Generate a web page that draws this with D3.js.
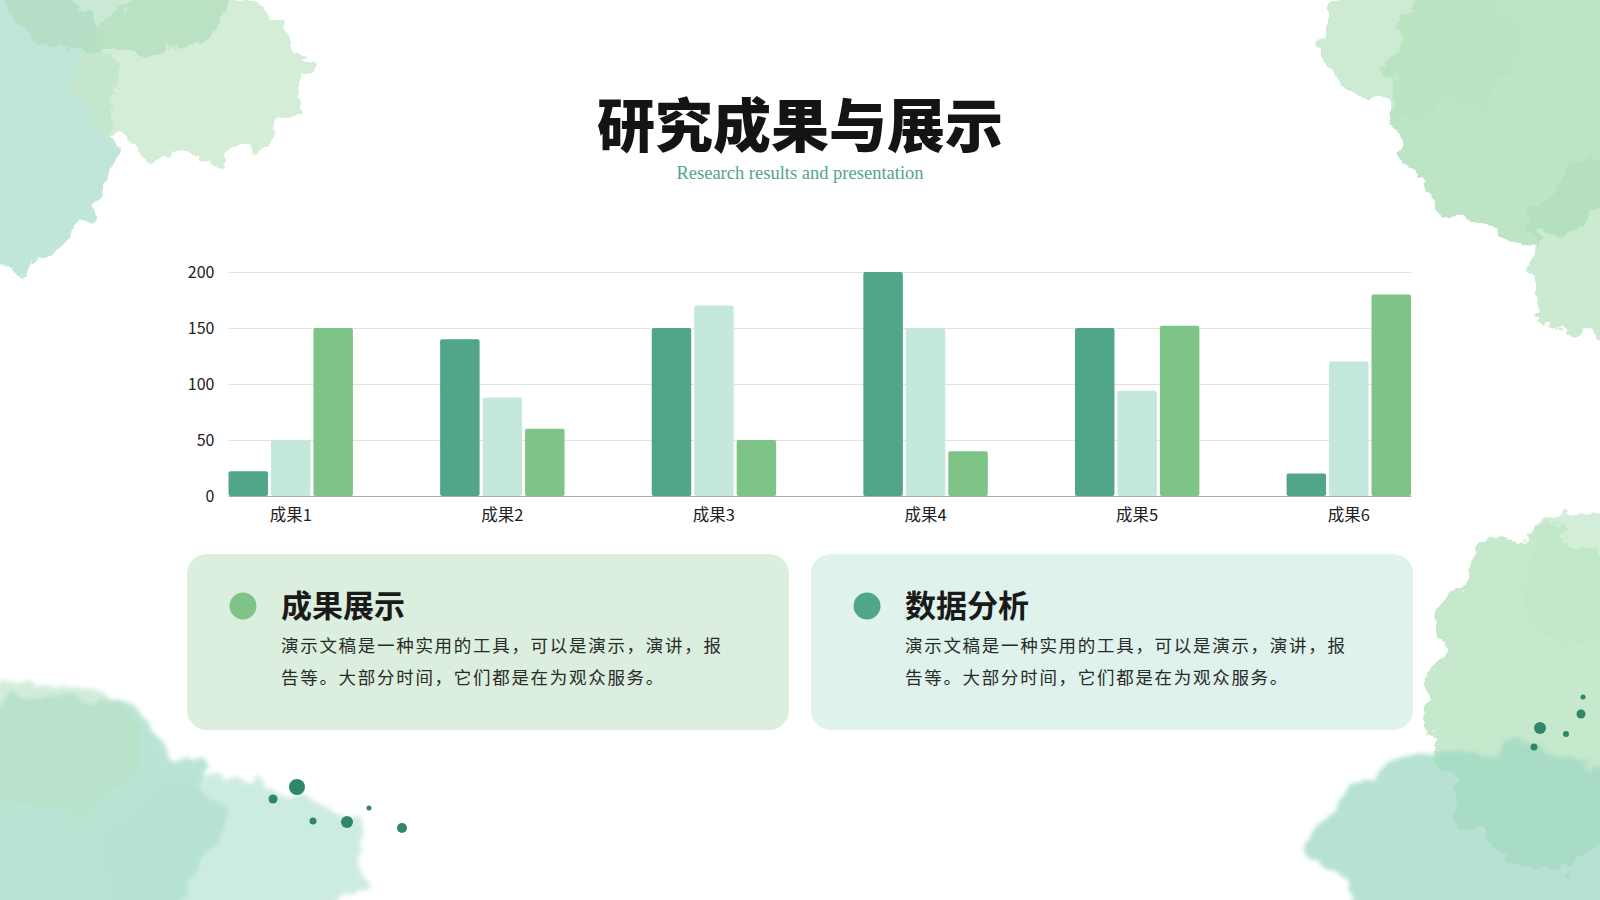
<!DOCTYPE html>
<meta charset="utf-8">
<head>
    <title>研究成果与展示</title>
    <script type="text/javascript" src="https://d3js.org/d3.v7.min.js"></script>
    <style>
        body { margin: 0; background: #fff; }
        svg { display: block; }
        .tick text { font-family: "Noto Sans CJK SC", "Noto Sans", sans-serif; fill: #222; }
    </style>
</head>
<body>
    <div id="chart"></div>
    <script>
        // chart data
        var categories = ["成果1", "成果2", "成果3", "成果4", "成果5", "成果6"];
        var seriesNames = ["系列1", "系列2", "系列3"];
        var series1 = [22, 140, 150, 200, 150, 20];
        var series2 = [50, 88, 170, 150, 94, 120];
        var series3 = [150, 60, 50, 40, 152, 180];
        var yTicks = [0, 50, 100, 150, 200];
        var seriesColors = ["#52a688", "#c5e8dc", "#7ec487"];

        // text of the two cards
        var cardTitles = ["成果展示", "数据分析"];
        var cardLines = ["演示文稿是一种实用的工具，可以是演示，演讲，报", "告等。大部分时间，它们都是在为观众服务。"];
        var cardFills = ["#dcefde", "#dff3ec"];
        var cardDots = ["#7ec487", "#52a688"];

        var width = 1600, height = 900;
        var margin = { top: 272, right: 189, bottom: 404, left: 228.5 };

        var svg = d3.select("#chart").append("svg")
            .attr("width", width)
            .attr("height", height);

        svg.append("rect").attr("width", width).attr("height", height).attr("fill", "#fff");

        // watercolour corners (decoration only)
        var defs = svg.append("defs");
        var wc = defs.append("filter").attr("id", "wc")
            .attr("x", "-30%").attr("y", "-30%").attr("width", "160%").attr("height", "160%");
        wc.append("feTurbulence").attr("type", "fractalNoise").attr("baseFrequency", 0.03)
            .attr("numOctaves", 4).attr("seed", 7).attr("result", "noise");
        wc.append("feDisplacementMap").attr("in", "SourceGraphic").attr("in2", "noise")
            .attr("scale", 45).attr("xChannelSelector", "R").attr("yChannelSelector", "G");
        var soft = defs.append("filter").attr("id", "soft")
            .attr("x", "-30%").attr("y", "-30%").attr("width", "160%").attr("height", "160%");
        soft.append("feTurbulence").attr("type", "fractalNoise").attr("baseFrequency", 0.02)
            .attr("numOctaves", 3).attr("seed", 2).attr("result", "noise");
        soft.append("feDisplacementMap").attr("in", "SourceGraphic").attr("in2", "noise")
            .attr("scale", 60).attr("xChannelSelector", "R").attr("yChannelSelector", "G").attr("result", "d");
        soft.append("feGaussianBlur").attr("in", "d").attr("stdDeviation", 2);

        var blobs = [
            // top left
            { cx: 20, cy: 120, rx: 95, ry: 145, c: "#a6dccb", o: 0.7, f: "wc" },
            { cx: 190, cy: 75, rx: 115, ry: 85, c: "#c6e7c9", o: 0.75, f: "wc" },
            { cx: 120, cy: 10, rx: 110, ry: 45, c: "#aedcbc", o: 0.65, f: "wc" },
            // top right
            { cx: 1530, cy: 90, rx: 140, ry: 150, c: "#a9dcb4", o: 0.75, f: "wc" },
            { cx: 1420, cy: 40, rx: 100, ry: 70, c: "#b8e3c0", o: 0.7, f: "wc" },
            { cx: 1590, cy: 250, rx: 60, ry: 90, c: "#b0dfbb", o: 0.65, f: "wc" },
            // bottom left
            { cx: 60, cy: 820, rx: 150, ry: 125, c: "#a4dcc6", o: 0.75, f: "soft" },
            { cx: 230, cy: 860, rx: 130, ry: 80, c: "#b3e2d2", o: 0.65, f: "soft" },
            { cx: 50, cy: 745, rx: 90, ry: 65, c: "#b7e1c2", o: 0.6, f: "soft" },
            // bottom right
            { cx: 1540, cy: 700, rx: 110, ry: 170, c: "#b3e2bd", o: 0.75, f: "wc" },
            { cx: 1500, cy: 840, rx: 190, ry: 90, c: "#9fd8c3", o: 0.75, f: "soft" },
            { cx: 1580, cy: 580, rx: 60, ry: 70, c: "#c1e8c8", o: 0.7, f: "wc" }
        ];
        var inkDots = [
            { x: 297, y: 787, r: 8 }, { x: 273, y: 799, r: 4.5 }, { x: 313, y: 821, r: 3.5 },
            { x: 347, y: 822, r: 6 }, { x: 369, y: 808, r: 2.5 }, { x: 402, y: 828, r: 5 },
            { x: 1540, y: 728, r: 6 }, { x: 1566, y: 734, r: 3 }, { x: 1534, y: 747, r: 3.5 },
            { x: 1581, y: 714, r: 4.5 }, { x: 1583, y: 697, r: 2.5 }
        ];

        svg.append("g").attr("class", "deco")
            .selectAll("ellipse").data(blobs).enter().append("ellipse")
            .attr("cx", function(d) { return d.cx; })
            .attr("cy", function(d) { return d.cy; })
            .attr("rx", function(d) { return d.rx; })
            .attr("ry", function(d) { return d.ry; })
            .attr("fill", function(d) { return d.c; })
            .attr("opacity", function(d) { return d.o; })
            .attr("filter", function(d) { return "url(#" + d.f + ")"; });

        svg.append("g").attr("class", "ink")
            .selectAll("circle").data(inkDots).enter().append("circle")
            .attr("cx", function(d) { return d.x; })
            .attr("cy", function(d) { return d.y; })
            .attr("r", function(d) { return d.r; })
            .attr("fill", "#2f8769");

        // title
        svg.append("text")
            .attr("x", 800).attr("y", 147)
            .attr("text-anchor", "middle")
            .attr("font-family", "'Noto Sans CJK SC', sans-serif")
            .attr("font-weight", 900)
            .attr("font-size", 58)
            .attr("fill", "#141414")
            .text("研究成果与展示");

        svg.append("text")
            .attr("x", 800).attr("y", 179)
            .attr("text-anchor", "middle")
            .attr("font-family", "'Liberation Serif', 'DejaVu Serif', serif")
            .attr("font-size", 18.5)
            .attr("fill", "#55a585")
            .text("Research results and presentation");

        // scales
        var x0 = d3.scaleBand()
            .domain(categories)
            .range([margin.left, width - margin.right])
            .paddingInner(0.412)
            .paddingOuter(0);

        var x1 = d3.scaleBand()
            .domain(seriesNames)
            .range([0, x0.bandwidth()])
            .paddingInner(0.07);

        var y = d3.scaleLinear()
            .domain([0, 200])
            .range([height - margin.bottom, margin.top]);

        // gridlines + y labels
        var yAxis = svg.append("g")
            .attr("transform", "translate(" + margin.left + ",0)")
            .call(d3.axisLeft(y).tickValues(yTicks)
                .tickSize(-(width - margin.left - margin.right))
                .tickPadding(14));
        yAxis.select(".domain").remove();
        yAxis.selectAll(".tick line").attr("stroke", "#e0e0e0");
        yAxis.selectAll(".tick text").attr("font-size", 16);

        // bars
        var rows = categories.map(function(c, i) {
            return { cat: c, values: [series1[i], series2[i], series3[i]] };
        });

        svg.append("g").selectAll("g")
            .data(rows).enter().append("g")
            .attr("transform", function(d) { return "translate(" + x0(d.cat) + ",0)"; })
            .selectAll("rect")
            .data(function(d) { return d.values.map(function(v, j) { return { s: seriesNames[j], v: v, j: j }; }); })
            .enter().append("rect")
            .attr("x", function(d) { return x1(d.s); })
            .attr("y", function(d) { return y(d.v); })
            .attr("width", x1.bandwidth())
            .attr("height", function(d) { return y(0) - y(d.v); })
            .attr("rx", 2)
            .attr("fill", function(d) { return seriesColors[d.j]; });

        // x axis
        var xAxis = svg.append("g")
            .attr("transform", "translate(0," + y(0) + ")")
            .call(d3.axisBottom(x0).tickSize(0).tickPadding(13));
        xAxis.select(".domain").attr("stroke", "#aaaaaa").attr("stroke-width", 1.2);
        xAxis.selectAll(".tick text").attr("font-size", 16.5);

        // cards
        var cardX = [187, 811];
        var cards = svg.append("g").selectAll("g")
            .data(cardTitles).enter().append("g")
            .attr("transform", function(d, i) { return "translate(" + cardX[i] + ",554)"; });

        cards.append("rect")
            .attr("width", 602).attr("height", 176)
            .attr("rx", 20)
            .attr("fill", function(d, i) { return cardFills[i]; });

        cards.append("circle")
            .attr("cx", 56).attr("cy", 52).attr("r", 13.5)
            .attr("fill", function(d, i) { return cardDots[i]; });

        cards.append("text")
            .attr("x", 94).attr("y", 63)
            .attr("font-family", "'Noto Sans CJK SC', sans-serif")
            .attr("font-weight", 700)
            .attr("font-size", 31)
            .attr("fill", "#1a1a1a")
            .text(function(d) { return d; });

        cards.each(function() {
            var g = d3.select(this);
            cardLines.forEach(function(line, k) {
                g.append("text")
                    .attr("x", 94).attr("y", 98 + k * 31.5)
                    .attr("font-family", "'Noto Sans CJK SC', sans-serif")
                    .attr("font-size", 17.5)
                    .attr("letter-spacing", 1.7)
                    .attr("fill", "#2a2a2a")
                    .text(line);
            });
        });
    </script>
</body>
</html>
